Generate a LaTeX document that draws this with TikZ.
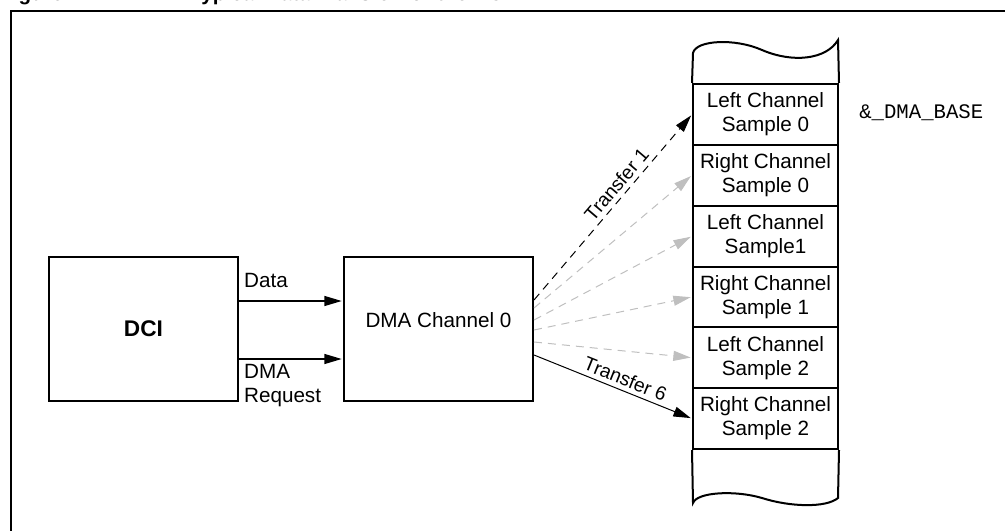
\documentclass[tikz,border=0pt]{standalone}
\usepackage{fontspec}
\setmainfont{Liberation Sans}
\setmonofont{Liberation Mono}
\usetikzlibrary{arrows.meta}

\begin{document}
\begin{tikzpicture}[x=0.75pt, y=-0.75pt,
  font=\fontsize{15.5}{18}\selectfont,
  blk/.style={draw, line width=1.5pt, minimum width=141.75pt, minimum height=108pt},
  cell/.style={draw, line width=1.5pt, minimum width=108.75pt, minimum height=45.6pt, align=center, inner sep=0pt},
  arr/.style={-{Triangle[length=13pt,width=7.5pt]}, line width=1pt, shorten >=1pt},
  xfer/.style={arr, dash pattern=on 6pt off 4.5pt, line width=0.75pt},
  xfergray/.style={xfer, color=lightgray},
  lbl/.style={font=\fontsize{14.5}{16}\selectfont}]
\useasboundingbox (0,0) rectangle (1005,531);
\clip (0,0) rectangle (1005,531);
% title (cut off at the top)
\node [anchor=base west, inner sep=0pt, font=\bfseries\fontsize{15.5}{18}\selectfont] (fignum) at (0,1) {Figure 22-27:};
\node [anchor=base west, inner sep=0pt, font=\bfseries\fontsize{15.5}{18}\selectfont] (figtitle) at (190,1) {Typical Data Transfer for the DCI};
\draw [line width=1.5pt] (11,560) -- (11,11) -- (1030,11);

\node [blk, font=\bfseries\fontsize{17}{20}\selectfont] (dci) at (143.5,329) {DCI};
\node [blk] (dma) at (438.5,329) {\raisebox{6.75pt}[\height][\depth]{DMA Channel 0}};

% buffer in memory
\node [cell] (r1) at (765.5,114.4) {Left Channel\\Sample 0};
\node [cell] (r2) at (765.5,175.2) {Right Channel\\Sample 0};
\node [cell] (r3) at (765.5,236.1) {Left Channel\\Sample1};
\node [cell] (r4) at (765.5,296.9) {Right Channel\\Sample 1};
\node [cell] (r5) at (765.5,357.7) {Left Channel\\Sample 2};
\node [cell] (r6) at (765.5,418.6) {Right Channel\\Sample 2};
\draw [line width=1.5pt] (r1.north west) -- (693,53) .. controls (696,40) and (735,38) .. (762,50) .. controls (792,63) and (826,60) .. (838,40) -- (r1.north east);
\draw [line width=1.5pt] (r6.south west) -- (693,503) .. controls (697,492) and (735,490) .. (762,498) .. controls (790,507) and (826,508) .. (838,498) -- (r6.south east);
\node [anchor=base west, inner sep=0pt, font=\ttfamily\fontsize{15.5}{18}\selectfont] (dmabase) at (859,118) {\&\_DMA\_BASE};

\draw [arr] ([yshift=21pt]dci.east) -- ([yshift=21pt]dma.west) node [pos=0, above right, yshift=6pt] {Data};
\draw [arr] ([yshift=-22.5pt]dci.east) -- ([yshift=-22.5pt]dma.west) node [pos=0, below right, align=left] {DMA\\Request};

% transfers
\draw [xfer] ([yshift=21.75pt]dma.east) -- (r1.west) node [sloped, above, pos=0.58, lbl] {Transfer 1};
\draw [xfergray] ([yshift=15.75pt]dma.east) -- (r2.west);
\draw [xfergray] ([yshift=6.75pt]dma.east) -- (r3.west);
\draw [xfergray] ([yshift=-0.75pt]dma.east) -- (r4.west);
\draw [xfergray] ([yshift=-9.75pt]dma.east) -- (r5.west);
\draw [arr, line width=0.75pt] ([yshift=-19.5pt]dma.east) -- (r6.west) node [sloped, above, pos=0.55, lbl] {Transfer 6};
\end{tikzpicture}
\end{document}
